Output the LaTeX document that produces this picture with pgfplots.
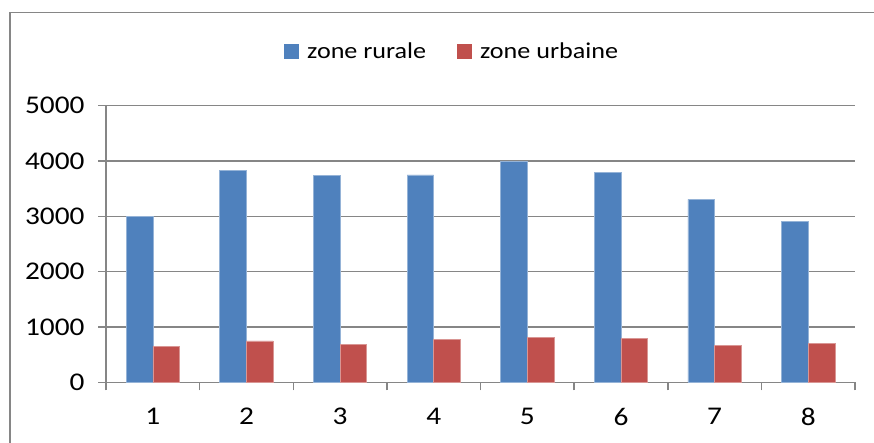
\documentclass[border=0pt]{standalone}
\usepackage{fontspec}
\setmainfont{Carlito}[FakeStretch=1.15]
\usepackage{pgfplots}
\pgfplotsset{compat=1.18}
\definecolor{rur}{HTML}{4F81BD}
\definecolor{urb}{HTML}{C0504D}
\definecolor{axg}{HTML}{868686}
\begin{document}
\begin{tikzpicture}[x=1pt,y=1pt]
\useasboundingbox (0,0) rectangle (874,442);
\draw[axg, line width=1.5pt] (10,-5) -- (10,429.7) -- (880,429.7);
\begin{axis}[
  at={(106pt,59.7pt)}, anchor=south west,
  scale only axis, width=749pt, height=276.6pt,
  ybar=0pt, bar width=0.285,
  xmin=0.5, xmax=8.5, ymin=0, ymax=5000,
  axis lines*=left,
  axis line style={axg, line width=1.5pt},
  tick align=outside, tick pos=left,
  major tick length=8pt, minor tick length=8pt,
  ytick={0,1000,2000,3000,4000,5000},
  xtick={1,2,3,4,5,6,7,8},
  minor xtick={0.5,1.5,2.5,3.5,4.5,5.5,6.5,7.5,8.5},
  major x tick style={draw=none},
  minor x tick style={axg, line width=1.5pt},
  major y tick style={axg, line width=1.5pt},
  ymajorgrids,
  major y grid style={axg, line width=1.5pt},
  /pgf/number format/assume math mode=true,
  /pgf/number format/1000 sep={},
  tick label style={font=\fontsize{25.5}{30}\selectfont},
  yticklabel style={xshift=-10pt},
  xticklabel style={yshift=-14pt},
  legend columns=2,
  legend style={at={(0.2377,1.196)}, anchor=west, draw=none, fill=none,
    inner sep=0pt, font=\fontsize{22.7}{27}\selectfont,
    /tikz/every even column/.append style={column sep=29pt}},
  legend image code/.code={\path[draw=none,fill=none] (0pt,0pt) -- (21pt,0pt);\draw[#1,draw=none] (0pt,-7.5pt) rectangle (15pt,7.5pt);},
]
\addplot[fill=rur, draw=rur!60!white, line width=0.6pt] coordinates {
  (1,3000) (2,3827) (3,3737) (4,3750) (5,3990) (6,3797) (7,3305) (8,2915)};
\addplot[fill=urb, draw=urb!60!white, line width=0.6pt] coordinates {
  (1,653) (2,748) (3,689) (4,773) (5,815) (6,797) (7,671) (8,707)};
\legend{zone rurale, zone urbaine}
\end{axis}
\end{tikzpicture}
\end{document}
